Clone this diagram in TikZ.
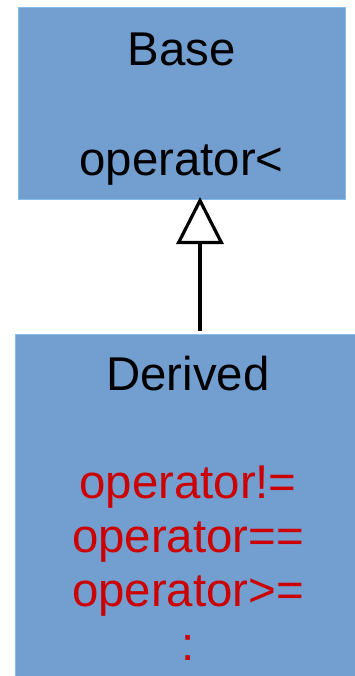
\documentclass[tikz,border=0pt]{standalone}
\usepackage{fontspec}
\setmainfont{Liberation Sans}
\usetikzlibrary{arrows.meta}
\definecolor{boxfill}{HTML}{729FCF}
\definecolor{boxedge}{HTML}{86BBEE}
\definecolor{opred}{HTML}{CC0000}
\tikzset{
  classbox/.style={draw=boxedge, fill=boxfill, line width=1pt, inner sep=0pt, rectangle},
  label/.style={anchor=base, inner sep=0pt, font=\fontsize{47.4}{54}\selectfont},
  member/.style={label, text=opred},
  inherit/.style={line width=3.2pt, -{Triangle[open, length=47pt, width=47pt]}}
}
\begin{document}
\begin{tikzpicture}[x=1pt, y=-1pt]
  \useasboundingbox (0,0) rectangle (354,676);
  % class boxes
  \node[classbox, minimum width=327pt, minimum height=192pt] (base) at (181.5,104) {};
  \node[classbox, minimum width=346pt, minimum height=346pt] (derived) at (188,507) {};
  % class Base
  \node[label] (basename) at (181.5,66) {Base};
  \node[label] (baseop) at (181.5,176) {operator<};
  % class Derived
  \node[label] (derivedname) at (188,390) {Derived};
  \node[member] (opne) at (188,498) {operator!=};
  \node[member] (opeq) at (188,552) {operator==};
  \node[member] (opge) at (188,606) {operator>=};
  \node[member] (more) at (188,660) {:};
  % generalisation arrow
  \coordinate (tip) at (200,197);
  \coordinate (tail) at (200,331);
  \draw[inherit] (tail) -- (tip);
\end{tikzpicture}
\end{document}
